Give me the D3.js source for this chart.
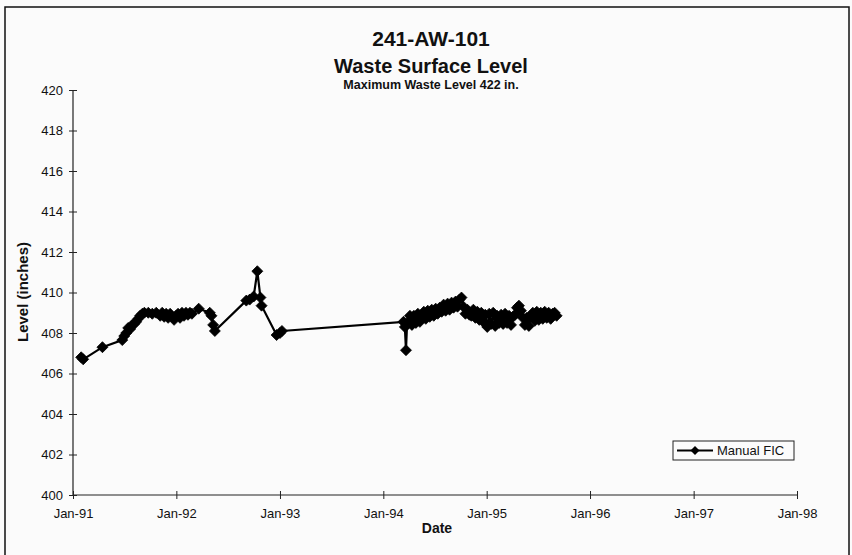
<!DOCTYPE html>
<html><head><meta charset="utf-8">
<script src="https://cdn.jsdelivr.net/npm/d3@7"></script>
<style>body{margin:0;background:#fff}svg{display:block}text{font-family:Arial,"Liberation Sans",sans-serif}</style>
</head><body><svg id="c" width="852" height="555"></svg>
<script>
// ---- data ----
const dates1991_93 = ["1991-01-30","1991-02-06","1991-04-15","1991-06-24","1991-07-01","1991-07-08","1991-07-15","1991-07-22","1991-07-29","1991-08-05","1991-08-12","1991-08-19","1991-08-26","1991-09-03","1991-09-10","1991-09-24","1991-10-08","1991-10-22","1991-11-05","1991-11-12","1991-11-19","1991-11-26","1991-12-03","1991-12-10","1991-12-17","1991-12-24","1991-12-31","1992-01-07","1992-01-14","1992-01-21","1992-01-28","1992-02-04","1992-02-11","1992-02-18","1992-02-25","1992-03-20","1992-04-28","1992-05-04","1992-05-10","1992-05-16","1992-09-04","1992-09-16","1992-09-30","1992-10-13","1992-10-24","1992-10-28","1992-12-20","1993-01-01","1993-01-08"];
const levels1991_93 = [406.8,406.7,407.3,407.65,407.85,408.0,408.25,408.2,408.4,408.45,408.55,408.7,408.85,408.95,409.0,409.0,408.95,409.0,408.85,409.0,408.8,408.95,408.75,408.95,408.8,408.65,408.85,408.95,408.75,409.0,408.85,409.0,408.9,409.0,408.95,409.2,409.0,408.85,408.4,408.1,409.6,409.65,409.8,411.05,409.75,409.35,407.9,408.0,408.1];
const dates1994_95 = ["1994-03-13","1994-03-18","1994-03-22","1994-03-26","1994-03-29","1994-04-05","1994-04-12","1994-04-19","1994-04-26","1994-05-03","1994-05-10","1994-05-17","1994-05-24","1994-05-31","1994-06-07","1994-06-14","1994-06-21","1994-06-28","1994-07-05","1994-07-12","1994-07-19","1994-07-26","1994-08-02","1994-08-09","1994-08-16","1994-08-23","1994-08-30","1994-09-06","1994-09-13","1994-09-20","1994-09-27","1994-10-04","1994-10-11","1994-10-18","1994-10-25","1994-11-01","1994-11-08","1994-11-15","1994-11-22","1994-11-29","1994-12-06","1994-12-13","1994-12-20","1994-12-27","1995-01-03","1995-01-10","1995-01-17","1995-01-24","1995-01-31","1995-02-07","1995-02-14","1995-02-21","1995-02-28","1995-03-07","1995-03-14","1995-03-21","1995-03-28","1995-04-04","1995-04-11","1995-04-18","1995-04-25","1995-05-02","1995-05-09","1995-05-16","1995-05-23","1995-05-30","1995-06-06","1995-06-13","1995-06-20","1995-06-27","1995-07-04","1995-07-11","1995-07-18","1995-07-25","1995-08-01","1995-08-08","1995-08-15","1995-08-22","1995-08-29","1995-09-05"];
const levels1994_95 = [408.55,408.3,407.15,408.5,408.45,408.85,408.4,408.85,408.5,408.95,408.55,408.75,409.05,408.7,409.1,408.8,409.15,408.85,409.2,408.95,409.25,409.05,409.4,409.1,409.45,409.15,409.5,409.25,409.55,409.3,409.65,409.75,409.3,408.95,409.15,408.9,408.85,409.15,408.75,409.05,408.65,409.0,408.55,408.9,408.3,408.95,408.45,409.0,408.35,408.85,408.5,408.9,408.45,408.95,408.5,408.85,408.4,408.8,408.9,409.25,409.35,409.1,408.75,408.4,408.75,408.35,408.85,409.0,408.6,409.05,408.65,409.0,408.7,409.05,408.75,409.0,408.7,408.95,409.0,408.85];
const xTickDates = ["1991-01-01","1992-01-01","1993-01-01","1994-01-01","1995-01-01","1996-01-01","1997-01-01","1998-01-01"];
const yTicks = [400,402,404,406,408,410,412,414,416,418,420];
const seriesName = "Manual FIC";

// ---- build ----
const parse = d3.timeParse("%Y-%m-%d");
const data = dates1991_93.map((d,i)=>({date:parse(d),v:levels1991_93[i]}))
  .concat(dates1994_95.map((d,i)=>({date:parse(d),v:levels1994_95[i]})));

const svg = d3.select("#c");
svg.append("rect").attr("x",0).attr("y",0).attr("width",852).attr("height",555).attr("fill","#fbfbfb");
svg.append("rect").attr("x",5).attr("y",7).attr("width",844).attr("height",560)
  .attr("fill","none").attr("stroke","#111").attr("stroke-width",1.5);

const x = d3.scaleTime().domain([parse(xTickDates[0]),parse(xTickDates[xTickDates.length-1])]).range([73,797]);
const y = d3.scaleLinear().domain([400,420]).range([495,90]);

// titles
svg.append("text").attr("x",431).attr("y",46).attr("text-anchor","middle")
  .attr("font-size",21).attr("font-weight","bold").attr("fill","#111").text("241-AW-101");
svg.append("text").attr("x",431).attr("y",73).attr("text-anchor","middle")
  .attr("font-size",20).attr("font-weight","bold").attr("fill","#111").text("Waste Surface Level");
svg.append("text").attr("x",431).attr("y",89).attr("text-anchor","middle")
  .attr("font-size",12.5).attr("font-weight","bold").attr("fill","#111").text("Maximum Waste Level 422 in.");

// axes
const yAxis = svg.append("g").attr("transform","translate(73,0)")
  .call(d3.axisLeft(y).tickValues(yTicks).tickSize(4).tickPadding(6).tickFormat(d3.format("d")));
yAxis.selectAll(".tick line").attr("x1",4).attr("x2",-4);
const xAxis = svg.append("g").attr("transform","translate(0,495)")
  .call(d3.axisBottom(x).tickValues(xTickDates.map(parse)).tickSize(4).tickPadding(10).tickFormat(d3.timeFormat("%b-%y")));
xAxis.selectAll(".tick line").attr("y1",-4).attr("y2",4);
[yAxis,xAxis].forEach(g=>{
  g.select(".domain").attr("stroke","#222").attr("stroke-width",1.2).attr("d", g===yAxis?"M0,90V495":"M73,0H797");
  g.selectAll(".tick line").attr("stroke","#222");
  g.selectAll(".tick text").attr("font-size",13).attr("fill","#111").attr("font-family","Arial, 'Liberation Sans', sans-serif");
});

svg.append("text").attr("transform","translate(28,292) rotate(-90)").attr("text-anchor","middle")
  .attr("font-size",15).attr("font-weight","bold").attr("fill","#111").text("Level (inches)");
svg.append("text").attr("x",437).attr("y",533).attr("text-anchor","middle")
  .attr("font-size",14).attr("font-weight","bold").attr("fill","#111").text("Date");

// series
const line = d3.line().x(d=>x(d.date)).y(d=>y(d.v));
svg.append("path").datum(data).attr("d",line).attr("fill","none").attr("stroke","#000").attr("stroke-width",2.2);
const diamond = r => `M0,${-r}L${r},0L0,${r}L${-r},0Z`;
svg.append("g").selectAll("path").data(data).join("path")
  .attr("transform",d=>`translate(${x(d.date)},${y(d.v)})`).attr("d",diamond(5.5))
  .attr("fill","#000").attr("stroke","#000").attr("stroke-width",0.8).attr("stroke-linejoin","round");

// legend
const lg = svg.append("g").attr("transform","translate(673,441)");
lg.append("rect").attr("width",121).attr("height",19).attr("fill","#fbfbfb").attr("stroke","#222").attr("stroke-width",1);
lg.append("line").attr("x1",4).attr("x2",40).attr("y1",9.5).attr("y2",9.5).attr("stroke","#000").attr("stroke-width",2);
lg.append("path").attr("transform","translate(22,9.5)").attr("d",diamond(4.5)).attr("fill","#000");
lg.append("text").attr("x",44).attr("y",14).attr("font-size",13).attr("fill","#111").text(seriesName);
</script></body></html>
